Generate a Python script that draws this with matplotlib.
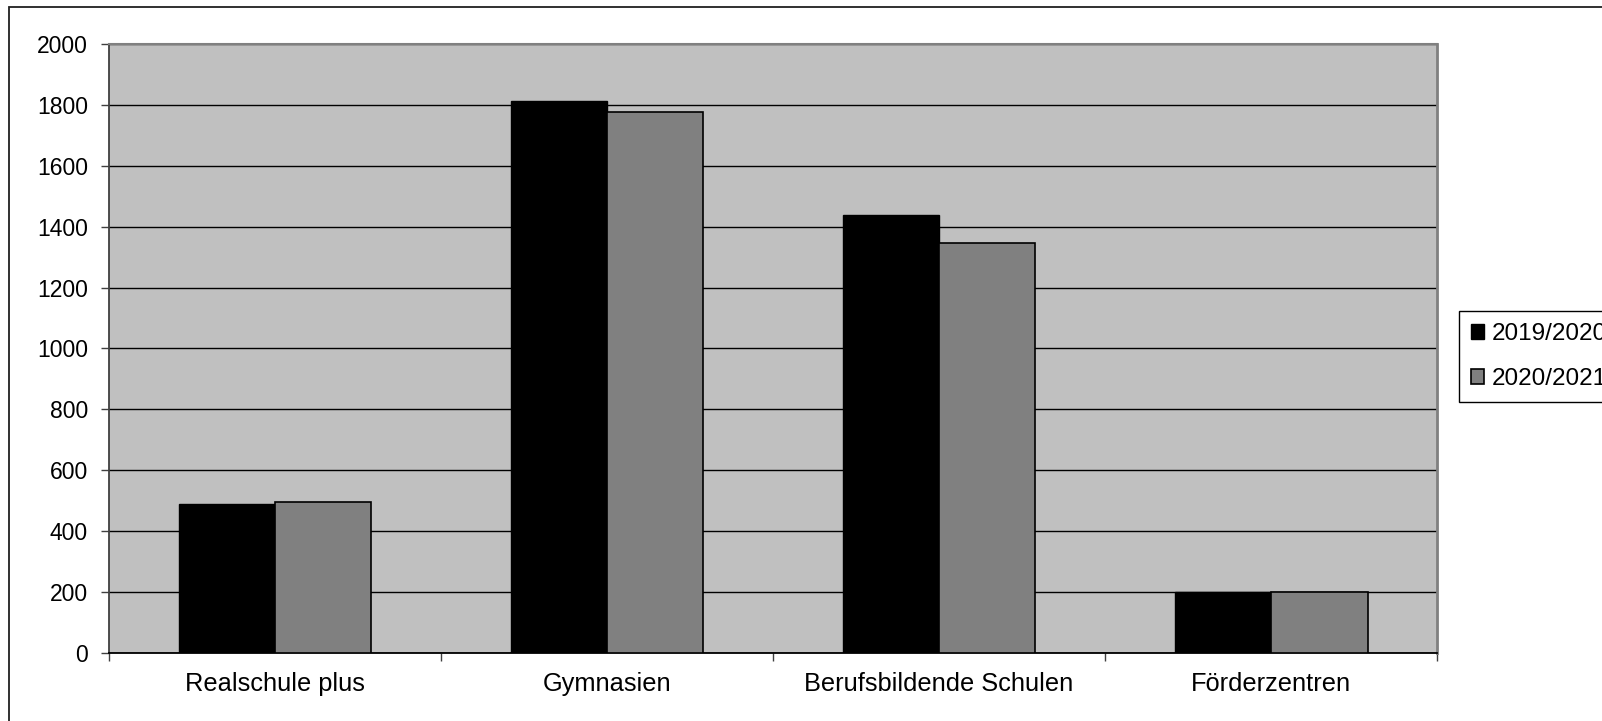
import numpy as np
import matplotlib
matplotlib.use("Agg")
import matplotlib.pyplot as plt
from matplotlib.patches import Rectangle

plt.rcParams['font.family'] = ['Liberation Sans', 'DejaVu Sans']

# Daten
kategorien = ["Realschule plus", "Gymnasien", "Berufsbildende Schulen", "Förderzentren"]
werte_2019 = [489, 1812, 1438, 201]
werte_2020 = [495, 1776, 1346, 199]
serien = ["2019/2020", "2020/2021"]
y_ticks = [0, 200, 400, 600, 800, 1000, 1200, 1400, 1600, 1800, 2000]

fig = plt.figure(figsize=(16.02, 7.21), dpi=100)
ax = fig.add_axes([0.0679, 0.0947, 0.8293, 0.8439])

# äußerer Rahmen (nur links und oben sichtbar)
fig.patches.append(Rectangle((8.7 / 1602, -0.05), 1.2, 1.05 - 7 / 721,
                             transform=fig.transFigure, fill=False,
                             edgecolor="#202020", linewidth=1.3))

x = np.arange(len(kategorien))
b = 0.29
ax.set_facecolor("#C0C0C0")
ax.bar(x - b / 2, werte_2019, width=b, color="#000000", edgecolor="#000000",
       linewidth=1, label=serien[0], zorder=3)
ax.bar(x + b / 2, werte_2020, width=b, color="#808080", edgecolor="#000000",
       linewidth=1.2, label=serien[1], zorder=3)

ax.set_xlim(-0.5, len(kategorien) - 0.5)
ax.set_ylim(0, 2000)
ax.set_yticks(y_ticks)
ax.yaxis.grid(True, color="#000000", linewidth=1)
ax.set_axisbelow(True)

ax.set_xticks(x)
ax.set_xticklabels(kategorien, fontsize=18.3)
ax.set_xticks(np.arange(-0.5, len(kategorien)), minor=True)
ax.tick_params(axis="x", which="major", length=0, pad=14)
ax.tick_params(axis="x", which="minor", length=6, width=1, color="#404040", direction="out")
ax.tick_params(axis="y", length=6, width=1, color="#404040", labelsize=16.5, pad=9)

ax.spines["left"].set_color("#404040")
ax.spines["left"].set_linewidth(1.3)
ax.spines["right"].set_color("#808080")
ax.spines["right"].set_linewidth(2)
ax.spines["top"].set_color("#808080")
ax.spines["top"].set_linewidth(1.5)
ax.spines["bottom"].set_color("#000000")
ax.spines["bottom"].set_linewidth(1.3)

leg = ax.legend(loc="upper left", bbox_to_anchor=(0.9107, 0.5687),
                bbox_transform=fig.transFigure, borderaxespad=0,
                fontsize=17.5, frameon=True, fancybox=False, shadow=False,
                handlelength=0.55, handleheight=0.55, handletextpad=0.3,
                borderpad=0.5, labelspacing=0.95)
leg.get_frame().set_edgecolor("#000000")
leg.get_frame().set_linewidth(1)
leg.get_frame().set_alpha(1)

fig.savefig("out.png", dpi=100)
